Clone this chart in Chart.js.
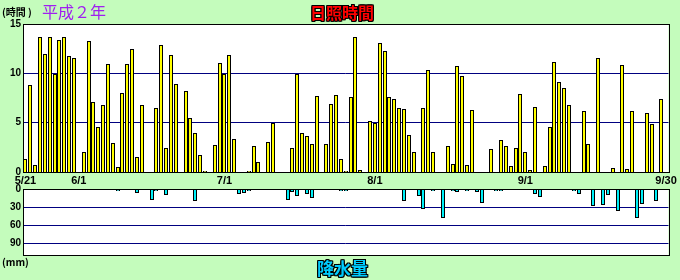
<!DOCTYPE html>
<html>
<head>
<meta charset="utf-8">
<script src="https://cdn.jsdelivr.net/npm/chart.js@4"></script>
<style>
  body { margin: 0; background: #c4fcbc; }
  #wrap { position: relative; width: 680px; height: 280px; overflow: hidden; font-family: 'Noto Sans CJK JP', sans-serif; }
  canvas { position: absolute; left: 0; }
  #sunChart { top: 0; }
  #rainChart { top: 176px; }
  .lbl { position: absolute; white-space: nowrap; line-height: 1; }
  .unit { font-size: 10px; font-weight: bold; color: #000; }
  .outlined { font-weight: bold; text-shadow: -1px 0 #000, 1px 0 #000, 0 -1px #000, 0 1px #000, -1px -1px #000, 1px 1px #000, -1px 1px #000, 1px -1px #000; }
</style>
</head>
<body>
<div id="wrap">
  <canvas id="sunChart" width="680" height="186" style="width:680px;height:186px"></canvas>
  <canvas id="rainChart" width="680" height="104" style="width:680px;height:104px"></canvas>
  <div class="lbl unit" style="left:2px;top:7px;">(時間 )</div>
  <div class="lbl" style="left:42px;top:3px;font-size:16px;color:#a020f0;">平成２年</div>
  <div class="lbl outlined" style="left:310px;top:4px;font-size:16px;color:#ff0000;">日照時間</div>
  <div class="lbl unit" style="left:2px;top:257px;">(mm)</div>
  <div class="lbl outlined" style="left:317px;top:259px;font-size:17px;color:#00ccff;">降水量</div>
</div>
<script>
// Sunshine hours (日照時間) and rainfall (降水量), 5/21 - 9/30
const monthStarts = [[5, 21, 31], [6, 1, 30], [7, 1, 31], [8, 1, 31], [9, 1, 30]];
const tickDates = ['5/21', '6/1', '7/1', '8/1', '9/1', '9/30'];

const sunMay = [1.3, 8.8, 0.7, 13.7, 12.0, 13.7, 9.9, 13.4, 13.7, 11.8, 11.6];
const sunJun = [0, 2.0, 13.3, 7.1, 4.6, 6.8, 10.9, 2.9, 0.5, 8.0,
                10.9, 12.5, 1.5, 6.8, 0, 0, 6.5, 12.9, 2.4, 11.9,
                8.9, 0, 8.2, 5.5, 4.0, 1.7, 0.1, 0, 2.7, 11.0];
const sunJul = [9.9, 11.9, 3.3, 0, 0, 0.1, 2.6, 1.0, 0, 3.0,
                5.0, 0, 0, 0, 2.4, 9.9, 4.0, 3.6, 2.8, 7.7,
                0, 2.8, 6.9, 7.8, 1.3, 0.1, 7.6, 13.7, 0.2, 0, 5.2];
const sunAug = [5.0, 13.1, 12.3, 7.6, 7.4, 6.5, 6.4, 3.7, 2.0, 0,
                6.5, 10.3, 2.0, 0, 0, 2.6, 0.8, 10.7, 9.7, 0.7,
                6.3, 0, 0, 0, 2.3, 0, 3.2, 2.6, 0.6, 2.4, 7.9];
const sunSep = [2.0, 0.2, 6.6, 0, 0.6, 4.6, 11.1, 9.1, 8.5, 6.8,
                0, 0, 6.2, 2.8, 0, 11.6, 0, 0, 0.4, 0,
                10.8, 0.3, 6.2, 0, 0, 6.0, 4.9, 0, 7.4, 0];

const rainMay = [0, 0, 0.5, 0, 0, 0, 0, 0, 0, 0, 0];
const rainJun = [0.5, 0, 0, 0, 0, 0, 0, 0, 3.4, 1.7,
                 0, 0, 6.7, 0, 0, 18.4, 3.4, 0, 10, 1.7,
                 0, 0, 0, 0, 20, 0, 0, 0, 0, 0];
const rainJul = [0, 0, 0, 8.4, 6.7, 3.4, 0, 0, 0, 0,
                 0, 0, 0.5, 18.4, 5, 11.7, 0, 8.4, 15, 0,
                 0, 0, 0, 0, 3.4, 3.4, 0, 0, 0.5, 0, 0];
const rainAug = [0, 0, 0, 0, 0, 0, 20, 0, 0, 11.7,
                 33.5, 0, 3.4, 0.5, 48.6, 0, 3.4, 5, 0, 3.4,
                 0, 5, 23.5, 0, 0, 3.4, 3.4, 0, 0, 0, 0];
const rainSep = [0, 0, 8.4, 13.4, 0, 0, 0, 0, 0, 0,
                 3.4, 8.4, 0, 0, 28.5, 0, 26.8, 10, 0, 37,
                 0, 0, 0.5, 48.6, 25, 0, 0, 20, 0, 0.5];

const dates = [];
monthStarts.forEach(([m, from, to]) => {
  for (let d = from; d <= to; d++) dates.push(m + '/' + d);
});
const sunshine = [].concat(sunMay, sunJun, sunJul, sunAug, sunSep);
const rainfall = [].concat(rainMay, rainJun, rainJul, rainAug, rainSep);

Chart.defaults.font.family = "'Liberation Sans', Arial, sans-serif";
Chart.defaults.font.size = 10;
Chart.defaults.font.weight = 'bold';
Chart.defaults.color = '#000';

// white plot area with black frame
const framePlugin = {
  id: 'frame',
  beforeDraw(chart) {
    const a = chart.chartArea, c = chart.ctx;
    c.save();
    c.fillStyle = '#fff';
    c.fillRect(a.left, a.top, a.right - a.left, a.bottom - a.top);
    c.restore();
  },
  afterDraw(chart) {
    const a = chart.chartArea, c = chart.ctx;
    c.save();
    c.strokeStyle = '#000';
    c.lineWidth = 1;
    c.strokeRect(Math.round(a.left) + 0.5, Math.round(a.top) + 0.5,
      Math.round(a.right - a.left), Math.round(a.bottom - a.top));
    c.restore();
  }
};

// round bar positions to whole pixels so the 1px borders stay sharp
const snapBars = {
  id: 'snapBars',
  afterDatasetsUpdate(chart) {
    chart.getDatasetMeta(0).data.forEach(bar => {
      bar.x = Math.round(bar.x);
      bar.y = Math.round(bar.y);
      bar.base = Math.round(bar.base);
      bar.width = 4;
    });
  }
};

function fixWidth(w) {
  return scale => { scale.width = w; scale.paddingTop = 0; scale.paddingBottom = 0; };
}

new Chart(document.getElementById('sunChart'), {
  type: 'bar',
  data: {
    labels: dates,
    datasets: [{
      data: sunshine,
      backgroundColor: '#ffff00',
      borderColor: '#000',
      borderWidth: 1,
      inflateAmount: 0,
      barPercentage: 0.8,
      categoryPercentage: 1
    }]
  },
  options: {
    responsive: false,
    animation: false,
    layout: { padding: { top: 24, right: 11.5, left: 0, bottom: 0 } },
    plugins: { legend: { display: false }, tooltip: { enabled: false } },
    scales: {
      x: {
        grid: { display: false, drawTicks: false },
        border: { display: false },
        ticks: {
          autoSkip: false, minRotation: 0, maxRotation: 0, padding: 2,
          font: { size: 11 },
          callback: (v, i) => tickDates.includes(dates[i]) ? dates[i] : ''
        },
        afterFit: scale => { scale.height = 14; scale.paddingLeft = 0; scale.paddingRight = 0; }
      },
      y: {
        min: 0, max: 15,
        ticks: { stepSize: 5, padding: 2 },
        grid: {
          drawTicks: false,
          color: ctx => (ctx.tick.value === 5 || ctx.tick.value === 10) ? '#000080' : 'rgba(0,0,0,0)'
        },
        border: { display: false },
        afterFit: fixWidth(23)
      }
    }
  },
  plugins: [framePlugin, snapBars]
});

new Chart(document.getElementById('rainChart'), {
  type: 'bar',
  data: {
    labels: dates,
    datasets: [{
      data: rainfall,
      backgroundColor: '#00f0f8',
      borderColor: '#000',
      borderWidth: 1,
      inflateAmount: 0,
      barPercentage: 0.8,
      categoryPercentage: 1
    }]
  },
  options: {
    responsive: false,
    animation: false,
    layout: { padding: { top: 13, right: 11.5, left: 0, bottom: 25 } },
    plugins: { legend: { display: false }, tooltip: { enabled: false } },
    scales: {
      x: { display: false },
      y: {
        reverse: true,
        min: 0, max: 110,
        ticks: { stepSize: 30, padding: 2, includeBounds: false },
        grid: {
          drawTicks: false,
          color: ctx => [30, 60, 90].includes(ctx.tick.value) ? '#000080' : 'rgba(0,0,0,0)'
        },
        border: { display: false },
        afterFit: fixWidth(23)
      }
    }
  },
  plugins: [framePlugin, snapBars]
});
</script>
</body>
</html>
